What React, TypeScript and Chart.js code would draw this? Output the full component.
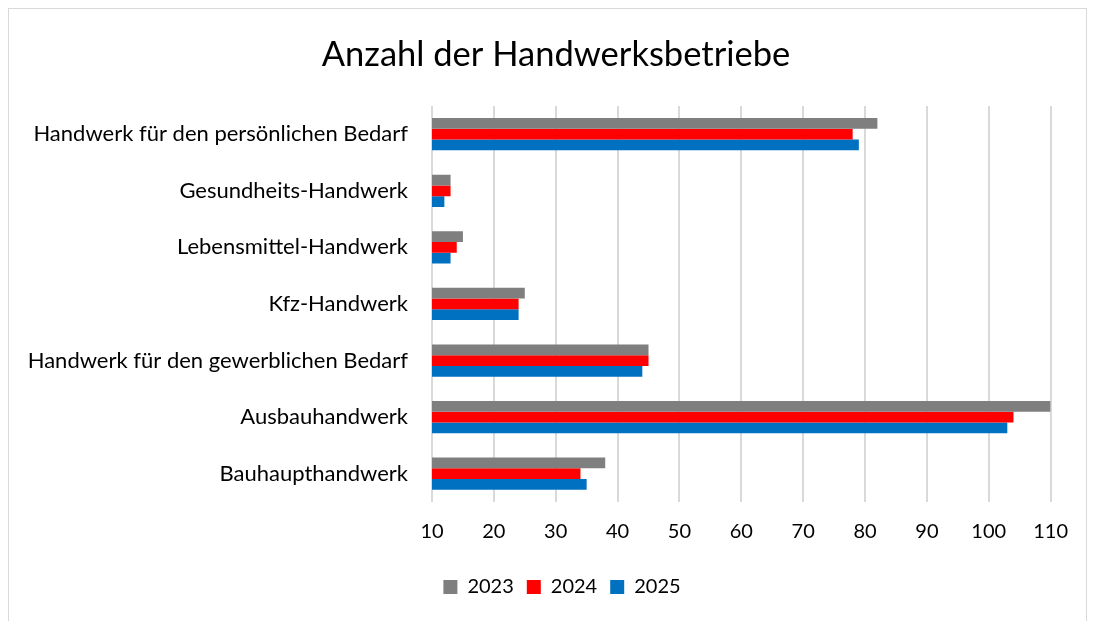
import React, { useEffect, useRef } from "react";
import { Chart, registerables } from "chart.js";

Chart.register(...registerables);

const categories = [
  "Handwerk für den persönlichen Bedarf",
  "Gesundheits-Handwerk",
  "Lebensmittel-Handwerk",
  "Kfz-Handwerk",
  "Handwerk für den gewerblichen Bedarf",
  "Ausbauhandwerk",
  "Bauhaupthandwerk",
];
const values2023 = [82, 13, 15, 25, 45, 110, 38];
const values2024 = [78, 13, 14, 24, 45, 104, 34];
const values2025 = [79, 12, 13, 24, 44, 103, 35];
const seriesLabels = ["2023", "2024", "2025"];
const seriesColors = ["#7f7f7f", "#ff0000", "#0070c0"];

const FONT = "Lato, 'Liberation Sans', sans-serif";

const shiftPlugin = {
  id: "shiftBlocks",
  afterLayout(chart: any) {
    if (chart.legend) {
      chart.legend.left += 26;
      chart.legend.right += 26;
    }
    if (chart.titleBlock) {
      chart.titleBlock.left += 20;
      chart.titleBlock.right += 20;
    }
  },
};

export default function App() {
  const ref = useRef<HTMLCanvasElement | null>(null);
  useEffect(() => {
    document.documentElement.style.overflow = "hidden";
    const ctx = ref.current!;
    const data = [values2023, values2024, values2025];
    const chart = new Chart(ctx, {
      type: "bar",
      data: {
        labels: categories,
        datasets: seriesLabels.map((l, i) => ({
          label: l,
          data: data[i],
          backgroundColor: seriesColors[i],
          borderWidth: 0,
          categoryPercentage: 0.57,
          barPercentage: 1,
        })),
      },
      options: {
        indexAxis: "y",
        animation: false,
        responsive: false,
        maintainAspectRatio: false,
        layout: { padding: { left: 0, right: 23, top: 0, bottom: 6 } },
        plugins: {
          title: {
            display: true,
            text: "Anzahl der Handwerksbetriebe",
            color: "#000000",
            font: { family: FONT, size: 34.5, weight: "normal" },
            padding: { top: 25, bottom: 30.5 },
          },
          legend: {
            display: true,
            position: "bottom",
            labels: {
              color: "#000000",
              font: { family: FONT, size: 20 },
              boxWidth: 14,
              boxHeight: 14,
              padding: 13,
            },
          },
          tooltip: { enabled: false },
        },
        scales: {
          x: {
            min: 10,
            max: 110,
            ticks: {
              stepSize: 10,
              color: "#000000",
              font: { family: FONT, size: 20 },
              padding: 18,
            },
            grid: { color: "#d9d9d9", lineWidth: 2, drawTicks: false },
            border: { display: false },
            afterFit: (s: any) => {
              s.height = 62;
            },
          },
          y: {
            ticks: {
              color: "#000000",
              font: { family: FONT, size: 22 },
              padding: 24,
            },
            grid: { display: false, drawTicks: false },
            border: { display: false },
            afterFit: (s: any) => {
              s.width = 423;
            },
          },
        },
      },
      plugins: [shiftPlugin],
    });
    return () => chart.destroy();
  }, []);
  return (
    <div
      style={{
        width: 1077,
        height: 620,
        border: "1px solid #d9d9d9",
        overflow: "hidden",
        background: "#ffffff",
      }}
    >
      <canvas ref={ref} width={1077} height={604} style={{ display: "block" }} />
    </div>
  );
}
